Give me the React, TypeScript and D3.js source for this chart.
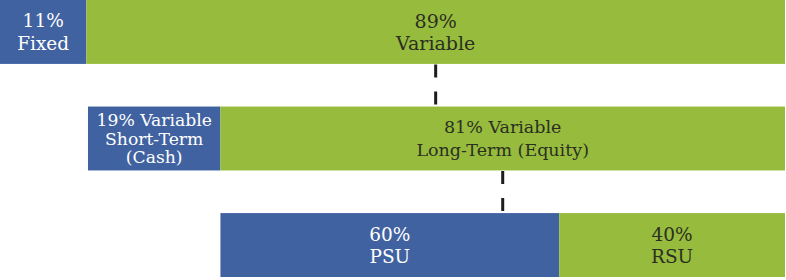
import React from "react";
import * as d3 from "d3";

// Data
const rowNames = ["total", "variable", "longTerm"];
const rowShares = [
  [11, 89],
  [19, 81],
  [60, 40],
];
const rowLabels = [
  [["11%", "Fixed"], ["89%", "Variable"]],
  [["19% Variable", "Short-Term", "(Cash)"], ["81% Variable", "Long-Term (Equity)"]],
  [["60%", "PSU"], ["40%", "RSU"]],
];

const W = 786;
const H = 280;
const BLUE = "#4162a1";
const GREEN = "#97bc3d";
const RIGHT = 785;
const FONT = "'DejaVu Serif', 'Liberation Serif', serif";

// per-row label styling [fontSize, lineHeight]
const labelStyle = [
  [[18.5, 23], [19, 21.5]],
  [[17.2, 18.5], [17.5, 23]],
  [[18.5, 22], [18.5, 22]],
];

export default function App() {
  const y = d3.scaleBand<string>().domain(rowNames).range([0, 277]).paddingInner(0.4);
  const bw = y.bandwidth();

  const rows: { x: d3.ScaleLinear<number, number>; segs: [number, number][] }[] = [];
  let start = 0;
  rowShares.forEach((shares, i) => {
    if (i === 1) start = 88;
    const x = d3.scaleLinear().domain([0, 100]).range([start, RIGHT]);
    const cum = d3.cumsum(shares);
    const segs: [number, number][] = shares.map((s, j) => [x(cum[j] - s), x(cum[j])]);
    rows.push({ x, segs });
    start = segs[0][1];
  });

  return (
    <svg width={W} height={H} style={{ position: "absolute", left: 0, top: 0 }}>
      <rect width={W} height={H} fill="#fff" />
      {rows.map((r, i) => {
        const y0 = y(rowNames[i])!;
        return (
          <g key={i}>
            {r.segs.map(([a, b], j) => (
              <rect key={j} x={a} y={y0} width={b - a} height={bw} fill={j === 0 ? BLUE : GREEN} />
            ))}
            {r.segs.map(([a, b], j) => {
              const lines = rowLabels[i][j];
              const [fs, lh] = labelStyle[i][j];
              const cx = (a + b) / 2;
              const cy = y0 + bw / 2;
              const firstBase = cy - ((lines.length - 1) * lh) / 2 + fs * 0.36;
              return (
                <text
                  key={"t" + j}
                  x={cx}
                  textAnchor="middle"
                  fontFamily={FONT}
                  fontSize={fs}
                  fill={j === 0 ? "#ffffff" : "#2b2f22"}
                >
                  {lines.map((l, k) => (
                    <tspan key={k} x={cx} y={firstBase + k * lh}>
                      {l}
                    </tspan>
                  ))}
                </text>
              );
            })}
          </g>
        );
      })}
      {rows.slice(0, -1).map((r, i) => {
        const [a, b] = r.segs[1];
        const cx = (a + b) / 2;
        const y1 = y(rowNames[i])! + bw;
        const y2 = y(rowNames[i + 1])!;
        return (
          <line
            key={"c" + i}
            x1={cx}
            x2={cx}
            y1={y1 + 0.5}
            y2={y2}
            stroke="#1c1c1c"
            strokeWidth={3}
            strokeDasharray="13 14"
          />
        );
      })}
    </svg>
  );
}
